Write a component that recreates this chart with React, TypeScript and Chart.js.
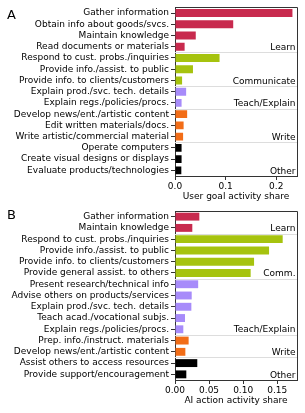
import React, { useEffect, useRef } from 'react';
import { Chart, registerables } from 'chart.js';

Chart.register(...registerables);

const FONT = 'DejaVu Sans';

// ---------- Panel A data ----------
const A_LABELS = [
  'Gather information',
  'Obtain info about goods/svcs.',
  'Maintain knowledge',
  'Read documents or materials',
  'Respond to cust. probs./inquiries',
  'Provide info./assist. to public',
  'Provide info. to clients/customers',
  'Explain prod./svc. tech. details',
  'Explain regs./policies/procs.',
  'Develop news/ent./artistic content',
  'Edit written materials/docs.',
  'Write artistic/commercial material',
  'Operate computers',
  'Create visual designs or displays',
  'Evaluate products/technologies',
];
const A_VALUES = [0.232, 0.115, 0.041, 0.019, 0.088, 0.0355, 0.014, 0.022, 0.013, 0.024, 0.017, 0.016, 0.013, 0.013, 0.0125];
const A_GROUPS = [0, 0, 0, 0, 1, 1, 1, 2, 2, 3, 3, 3, 4, 4, 4];
const A_GROUP_NAMES = ['Learn', 'Communicate', 'Teach/Explain', 'Write', 'Other'];
const A_TICKS = [0, 0.1, 0.2];
const A_MAX = 0.241;
const A_TITLE = 'User goal activity share';

// ---------- Panel B data ----------
const B_LABELS = [
  'Gather information',
  'Maintain knowledge',
  'Respond to cust. probs./inquiries',
  'Provide info./assist. to public',
  'Provide info. to clients/customers',
  'Provide general assist. to others',
  'Present research/technical info',
  'Advise others on products/services',
  'Explain prod./svc. tech. details',
  'Teach acad./vocational subjs.',
  'Explain regs./policies/procs.',
  'Prep. info./instruct. materials',
  'Develop news/ent./artistic content',
  'Assist others to access resources',
  'Provide support/encouragement',
];
const B_VALUES = [0.0357, 0.0254, 0.158, 0.138, 0.116, 0.111, 0.034, 0.0245, 0.024, 0.0147, 0.0122, 0.020, 0.0152, 0.0327, 0.0166];
const B_GROUPS = [0, 0, 1, 1, 1, 1, 2, 2, 2, 2, 2, 3, 3, 4, 4];
const B_GROUP_NAMES = ['Learn', 'Comm.', 'Teach/Explain', 'Write', 'Other'];
const B_TICKS = [0, 0.05, 0.1, 0.15];
const B_MAX = 0.179;
const B_TITLE = 'AI action activity share';

const GROUP_COLORS = ['#c82a4e', '#a6c30e', '#a78bfa', '#f26d17', '#000000'];

const groupPlugin = {
  id: 'groupDeco',
  beforeDatasetsDraw(chart: any, _args: any, opts: any) {
    const { ctx, chartArea: ca, scales } = chart;
    const y = scales.y;
    const g: number[] = opts.groups;
    ctx.save();
    ctx.strokeStyle = '#dddddd';
    ctx.lineWidth = 1;
    for (let i = 1; i < g.length; i++) {
      if (g[i] !== g[i - 1]) {
        const yy = Math.round((y.getPixelForValue(i - 1) + y.getPixelForValue(i)) / 2) + 0.5;
        ctx.beginPath();
        ctx.moveTo(ca.left, yy);
        ctx.lineTo(ca.right, yy);
        ctx.stroke();
      }
    }
    ctx.restore();
  },
  afterDatasetsDraw(chart: any, _args: any, opts: any) {
    const { ctx, chartArea: ca, scales } = chart;
    const y = scales.y;
    const g: number[] = opts.groups;
    const names: string[] = opts.names;
    ctx.save();
    ctx.fillStyle = '#000';
    ctx.font = `9px "${FONT}"`;
    ctx.textAlign = 'right';
    ctx.textBaseline = 'alphabetic';
    for (let i = 0; i < g.length; i++) {
      if (i === g.length - 1 || g[i + 1] !== g[i]) {
        const bottom = i === g.length - 1 ? ca.bottom : (y.getPixelForValue(i) + y.getPixelForValue(i + 1)) / 2;
        ctx.fillText(names[g[i]], ca.right - 1.5, bottom - 2.5);
      }
    }
    // top & right spines
    ctx.strokeStyle = '#333';
    ctx.lineWidth = 1;
    ctx.beginPath();
    ctx.moveTo(ca.left, Math.round(ca.top) + 0.5);
    ctx.lineTo(ca.right + 0.5, Math.round(ca.top) + 0.5);
    ctx.lineTo(ca.right + 0.5, ca.bottom);
    ctx.stroke();
    // panel letter
    ctx.textAlign = 'left';
    ctx.font = `13px "${FONT}"`;
    ctx.fillText(opts.letter, 7, opts.letterY);
    ctx.restore();
  },
};

type PanelProps = {
  labels: string[];
  values: number[];
  groups: number[];
  names: string[];
  ticks: number[];
  max: number;
  decimals: number;
  title: string;
  letter: string;
  letterY: number;
  top: number;
  height: number;
  padTop: number;
  padBottom: number;
};

function Panel(p: PanelProps) {
  const ref = useRef<HTMLCanvasElement>(null);
  useEffect(() => {
    if (!ref.current) return;
    const chart = new Chart(ref.current, {
      type: 'bar',
      data: {
        labels: p.labels,
        datasets: [
          {
            data: p.values,
            backgroundColor: p.groups.map((g) => GROUP_COLORS[g]),
            borderWidth: 0,
            barPercentage: 0.7,
            categoryPercentage: 1,
          },
        ],
      },
      options: {
        indexAxis: 'y',
        responsive: false,
        animation: false,
        devicePixelRatio: 1,
        layout: { padding: { top: p.padTop, bottom: p.padBottom, left: 0, right: 8 } },
        plugins: {
          legend: { display: false },
          tooltip: { enabled: false },
          groupDeco: { groups: p.groups, names: p.names, letter: p.letter, letterY: p.letterY },
        } as any,
        scales: {
          y: {
            type: 'category',
            afterFit: (s: any) => {
              s.width = 175;
            },
            grid: { offset: false, drawOnChartArea: false, drawTicks: true, tickLength: 4, color: '#333' },
            border: { display: true, color: '#333', width: 1 },
            ticks: { color: '#000', padding: 2, autoSkip: false, font: { family: FONT, size: 9 } },
          },
          x: {
            type: 'linear',
            min: 0,
            max: p.max,
            afterFit: (s: any) => {
              s.height = 26;
            },
            afterBuildTicks: (s: any) => {
              s.ticks = p.ticks.map((v) => ({ value: v }));
            },
            grid: { drawOnChartArea: false, drawTicks: true, tickLength: 4, color: '#333' },
            border: { display: true, color: '#333', width: 1 },
            ticks: {
              color: '#000',
              padding: 1,
              maxRotation: 0,
              font: { family: FONT, size: 9 },
              callback: (v: any) => Number(v).toFixed(p.decimals),
            },
            title: {
              display: true,
              text: p.title,
              color: '#000',
              padding: { top: 0, bottom: 0 },
              font: { family: FONT, size: 9 },
            },
          },
        },
      },
      plugins: [groupPlugin as any],
    });
    return () => chart.destroy();
  }, []);
  return (
    <canvas
      ref={ref}
      width={305}
      height={p.height}
      style={{ position: 'absolute', left: 0, top: p.top, width: 305, height: p.height }}
    />
  );
}

export default function App() {
  return (
    <div style={{ position: 'absolute', left: 0, top: 0, width: 305, height: 413, background: '#fff' }}>
      <Panel
        labels={A_LABELS}
        values={A_VALUES}
        groups={A_GROUPS}
        names={A_GROUP_NAMES}
        ticks={A_TICKS}
        max={A_MAX}
        decimals={1}
        title={A_TITLE}
        letter="A"
        letterY={18.5}
        top={0}
        height={202}
        padTop={6}
        padBottom={0}
      />
      <Panel
        labels={B_LABELS}
        values={B_VALUES}
        groups={B_GROUPS}
        names={B_GROUP_NAMES}
        ticks={B_TICKS}
        max={B_MAX}
        decimals={2}
        title={B_TITLE}
        letter="B"
        letterY={17}
        top={202}
        height={211}
        padTop={9}
        padBottom={7}
      />
    </div>
  );
}
